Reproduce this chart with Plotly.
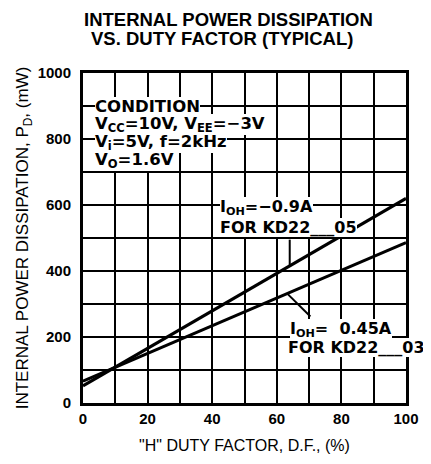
import plotly.graph_objects as go

duty = [0, 100]
pd_kd22_05 = [52, 620]
pd_kd22_03 = [66, 486]
x_ticks = [0, 20, 40, 60, 80, 100]
y_ticks = [0, 200, 400, 600, 800, 1000]

ARIAL = "Liberation Sans, Arial, sans-serif"
WIDE = "DejaVu Sans, sans-serif"

fig = go.Figure()
fig.add_trace(go.Scatter(x=duty, y=pd_kd22_05, mode="lines",
                         line=dict(color="black", width=3), showlegend=False))
fig.add_trace(go.Scatter(x=duty, y=pd_kd22_03, mode="lines",
                         line=dict(color="black", width=3), showlegend=False))

ann = []
def txt(x, y, s, size=16):
    ann.append(dict(x=x, y=y, xref="x", yref="y", text="<b>" + s + "</b>", showarrow=False,
                    xanchor="left", yanchor="middle", bgcolor="white",
                    font=dict(family=WIDE, size=size, color="black"),
                    borderpad=0, borderwidth=0))

# bottom rows first so upper rows are drawn on top
txt(3.6, 735, "V<sub>O</sub>=1.6V", 16.5)
txt(3.6, 789, "V<sub>i</sub>=5V, f=2kHz", 16.5)
txt(3.6, 845, "V<sub>CC</sub>=10V, V<sub>EE</sub>=\u22123V", 16.5)
txt(3.6, 899, "CONDITION", 16.5)
txt(42.3, 533, "FOR KD22___05")
txt(42.3, 591, "I<sub>OH</sub>=\u22120.9A")
txt(63.6, 167, "FOR KD22___03")
txt(64.0, 223, "I<sub>OH</sub>=  0.45A")

# title lines
ann.append(dict(x=0.450, y=1.161, xref="paper", yref="paper", showarrow=False,
                text="<b>INTERNAL POWER DISSIPATION</b>", xanchor="center", yanchor="middle",
                font=dict(family=ARIAL, size=18.5, color="black")))
ann.append(dict(x=0.429, y=1.106, xref="paper", yref="paper", showarrow=False,
                text="<b>VS. DUTY FACTOR (TYPICAL)</b>", xanchor="center", yanchor="middle",
                font=dict(family=ARIAL, size=18.5, color="black")))
fig.update_layout(annotations=ann)

# pointer lines
fig.add_shape(type="line", xref="x", yref="y", x0=64, y0=495, x1=64, y1=418,
              line=dict(color="black", width=2))
fig.add_shape(type="line", xref="x", yref="y", x0=70.4, y0=262, x1=63.4, y1=330,
              line=dict(color="black", width=2))

fig.update_layout(
    width=423, height=456,
    margin=dict(l=75, r=17, t=65, b=60),
    paper_bgcolor="white", plot_bgcolor="white",
    font=dict(family=ARIAL, color="black"),
    xaxis=dict(range=[0, 100], tickvals=x_ticks, ticktext=[str(v) for v in x_ticks],
               showgrid=True, gridcolor="black", gridwidth=2,
               minor=dict(dtick=10, showgrid=True, gridcolor="black", gridwidth=2),
               showline=True, linecolor="black", linewidth=3, mirror=True,
               ticks="", zeroline=False,
               tickfont=dict(family=ARIAL, size=15, color="black", weight="bold"),
               title=dict(text="\"H\" DUTY FACTOR, D.F., (%)", standoff=14,
                          font=dict(family=ARIAL, size=16, color="black"))),
    yaxis=dict(range=[0, 1000], tickvals=y_ticks, ticktext=[str(v) for v in y_ticks],
               showgrid=True, gridcolor="black", gridwidth=2,
               minor=dict(dtick=100, showgrid=True, gridcolor="black", gridwidth=2),
               showline=True, linecolor="black", linewidth=3, mirror=True,
               ticks="", zeroline=False, ticklabelstandoff=6,
               tickfont=dict(family=ARIAL, size=15, color="black", weight="bold"),
               title=dict(text="INTERNAL POWER DISSIPATION, P<sub>D</sub>, (mW)", standoff=5,
                          font=dict(family=ARIAL, size=17, color="black"))),
)

fig.write_html("out.html")
